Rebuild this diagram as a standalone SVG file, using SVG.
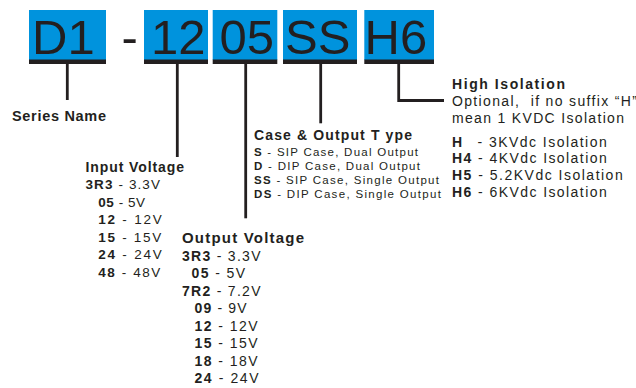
<svg xmlns="http://www.w3.org/2000/svg" width="636" height="388" viewBox="0 0 636 388">
<style>
.box{fill:#0093dd}
.bar{fill:#231f20}
.code{font-family:"Liberation Sans",Arial,sans-serif;font-size:49px;fill:#231f20}
.t{font-family:"Liberation Sans",Arial,sans-serif;fill:#231f20}
.b{font-weight:bold}
.hs{font-size:14.5px;font-weight:bold}
.hi{font-size:14px;font-weight:bold}
.ho{font-size:15px;font-weight:bold}
.li{font-size:13.5px}
.lo{font-size:14px}
.lc{font-size:11.5px}
.lh{font-size:14px}
.conn{fill:none;stroke:#231f20;stroke-width:2.8}
</style>
<rect width="636" height="388" fill="#ffffff"/>
<g id="code-d1">
<rect class="box" x="29" y="10" width="77" height="50"/>
<rect class="bar" x="29" y="59.5" width="77" height="4.5"/>
<text class="code" x="32" y="53.5">D1</text>
</g>
<g id="dash">
<text class="code" x="121.5" y="53.5">-</text>
</g>
<g id="code-12">
<rect class="box" x="144" y="10" width="64" height="50"/>
<rect class="bar" x="144" y="59.5" width="64" height="4.5"/>
<text class="code" x="151" y="53.5">12</text>
</g>
<g id="code-05">
<rect class="box" x="212.7" y="10" width="64.6" height="50"/>
<rect class="bar" x="212.7" y="59.5" width="64.6" height="4.5"/>
<text class="code" x="219.5" y="53.5">05</text>
</g>
<g id="code-ss">
<rect class="box" x="283" y="10" width="74" height="50"/>
<rect class="bar" x="283" y="59.5" width="74" height="4.5"/>
<text class="code" x="285" y="53.5">SS</text>
</g>
<g id="code-h6">
<rect class="box" x="364.3" y="10" width="69.7" height="50"/>
<rect class="bar" x="364.3" y="59.5" width="69.7" height="4.5"/>
<text class="code" x="364.5" y="53.5">H6</text>
</g>
<g id="connectors">
<line class="conn" x1="67.3" y1="64" x2="67.3" y2="100"/>
<line class="conn" x1="177.3" y1="64" x2="177.3" y2="157"/>
<line class="conn" x1="245.7" y1="64" x2="245.7" y2="218.3"/>
<line class="conn" x1="320.7" y1="64" x2="320.7" y2="123.3"/>
<polyline class="conn" points="398.7,64 398.7,100.5 444,100.5"/>
</g>
<g id="label-series">
<text class="t hs" x="12" y="120.5" textLength="94" lengthAdjust="spacing">Series Name</text>
</g>
<g id="label-input">
<text class="t hi" x="85.5" y="171.7" textLength="98.5" lengthAdjust="spacing">Input Voltage</text>
<text class="t li" x="85.5" y="189" textLength="74.5" lengthAdjust="spacing"><tspan class="b">3R3</tspan> - 3.3V</text>
<text class="t li" x="98.3" y="206.5" textLength="46.7" lengthAdjust="spacing"><tspan class="b">05</tspan> - 5V</text>
<text class="t li" x="98.3" y="224" textLength="63.4" lengthAdjust="spacing"><tspan class="b">12</tspan> - 12V</text>
<text class="t li" x="98.3" y="241.5" textLength="63" lengthAdjust="spacing"><tspan class="b">15</tspan> - 15V</text>
<text class="t li" x="98.3" y="259" textLength="63.4" lengthAdjust="spacing"><tspan class="b">24</tspan> - 24V</text>
<text class="t li" x="98.3" y="276.5" textLength="62" lengthAdjust="spacing"><tspan class="b">48</tspan> - 48V</text>
</g>
<g id="label-output">
<text class="t ho" x="182" y="243.3" textLength="122" lengthAdjust="spacing">Output Voltage</text>
<text class="t lo" x="182" y="260.5" textLength="78.5" lengthAdjust="spacing"><tspan class="b">3R3</tspan> - 3.3V</text>
<text class="t lo" x="191.5" y="278" textLength="53.5" lengthAdjust="spacing"><tspan class="b">05</tspan> - 5V</text>
<text class="t lo" x="182" y="295.5" textLength="78.5" lengthAdjust="spacing"><tspan class="b">7R2</tspan> - 7.2V</text>
<text class="t lo" x="194.5" y="313" textLength="52" lengthAdjust="spacing"><tspan class="b">09</tspan> - 9V</text>
<text class="t lo" x="194.5" y="330.5" textLength="63" lengthAdjust="spacing"><tspan class="b">12</tspan> - 12V</text>
<text class="t lo" x="194.5" y="348" textLength="63" lengthAdjust="spacing"><tspan class="b">15</tspan> - 15V</text>
<text class="t lo" x="194.5" y="365.5" textLength="63" lengthAdjust="spacing"><tspan class="b">18</tspan> - 18V</text>
<text class="t lo" x="194.5" y="383" textLength="64" lengthAdjust="spacing"><tspan class="b">24</tspan> - 24V</text>
</g>
<g id="label-case">
<text class="t hi" x="254" y="140" textLength="158" lengthAdjust="spacing">Case &amp; Output T ype</text>
<text class="t lc" x="254" y="155.7" textLength="164" lengthAdjust="spacing"><tspan class="b">S</tspan> - SIP Case, Dual Output</text>
<text class="t lc" x="254" y="170" textLength="166" lengthAdjust="spacing"><tspan class="b">D</tspan> - DIP Case, Dual Output</text>
<text class="t lc" x="254" y="184" textLength="185" lengthAdjust="spacing"><tspan class="b">SS</tspan> - SIP Case, Single Output</text>
<text class="t lc" x="254" y="198.3" textLength="187" lengthAdjust="spacing"><tspan class="b">DS</tspan> - DIP Case, Single Output</text>
</g>
<g id="label-isolation">
<text class="t hi" x="452" y="89" textLength="113" lengthAdjust="spacing">High Isolation</text>
<text class="t lh" x="452" y="105.7" textLength="185" lengthAdjust="spacing" xml:space="preserve">Optional,  if no suffix “H”</text>
<text class="t lh" x="452" y="123.3" textLength="172" lengthAdjust="spacing">mean 1 KVDC Isolation</text>
<text class="t lh" x="452" y="146.7"><tspan class="b">H</tspan><tspan x="477.5" textLength="129.2" lengthAdjust="spacing">- 3KVdc Isolation</tspan></text>
<text class="t lh" x="452" y="163.3" textLength="154.7" lengthAdjust="spacing"><tspan class="b">H4</tspan> - 4KVdc Isolation</text>
<text class="t lh" x="452" y="180" textLength="170.7" lengthAdjust="spacing"><tspan class="b">H5</tspan> - 5.2KVdc Isolation</text>
<text class="t lh" x="452" y="196.7" textLength="154.7" lengthAdjust="spacing"><tspan class="b">H6</tspan> - 6KVdc Isolation</text>
</g>
</svg>
